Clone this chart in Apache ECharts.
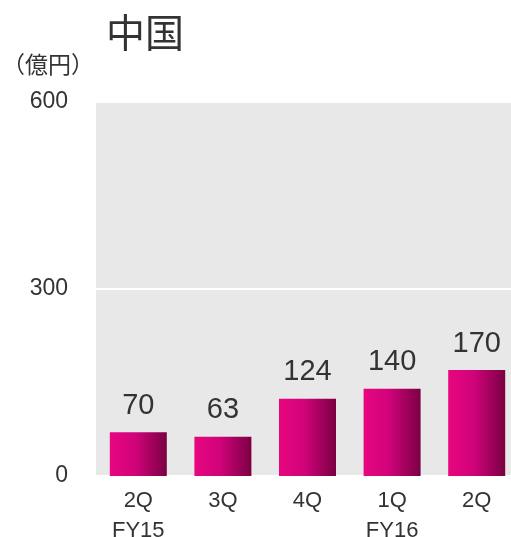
<!DOCTYPE html>
<html>
<head>
<meta charset="utf-8">
<script src="https://cdn.jsdelivr.net/npm/echarts@6/dist/echarts.min.js"></script>
<style>
html, body { margin: 0; padding: 0; background: #fff; }
#chart { width: 511px; height: 537px; }
</style>
</head>
<body>
<div id="chart"></div>
<script>
// Quarterly figures (億円)
const quarters = ['2Q\nFY15', '3Q', '4Q', '1Q\nFY16', '2Q'];
const values = [70, 63, 124, 140, 170];
const yTicks = [0, 300, 600];

const chart = echarts.init(document.getElementById('chart'));

const barGradient = new echarts.graphic.LinearGradient(0, 0, 1, 0, [
  { offset: 0, color: '#e8067f' },
  { offset: 0.45, color: '#d0037a' },
  { offset: 1, color: '#7a0042' }
]);

chart.setOption({
  animation: false,
  textStyle: { fontFamily: 'Liberation Sans, Arial, sans-serif' },
  title: {
    text: '中国',
    left: 101,
    top: 8,
    textStyle: { fontFamily: 'Noto Sans CJK JP', fontSize: 39, fontWeight: 'normal', color: '#333' }
  },
  graphic: [{
    type: 'text',
    left: 2,
    top: 53,
    style: { text: '（億円）', font: '23px "Noto Sans CJK JP"', fill: '#333' }
  }],
  grid: {
    left: 96,
    top: 102,
    width: 423,
    height: 374,
    containLabel: false,
    outerBoundsMode: 'none',
    show: true,
    backgroundColor: '#e8e8e8',
    borderWidth: 0
  },
  xAxis: {
    type: 'category',
    data: quarters,
    axisLine: { show: false },
    axisTick: { show: false },
    axisLabel: { fontSize: 22, color: '#333', margin: 10, lineHeight: 30 }
  },
  yAxis: {
    type: 'value',
    min: yTicks[0],
    max: yTicks[yTicks.length - 1],
    interval: 300,
    axisLine: { show: false },
    axisTick: { show: false },
    splitLine: { lineStyle: { color: '#ffffff', width: 2 } },
    axisLabel: { fontSize: 23, color: '#333', margin: 28, padding: [5, 0, 0, 0] }
  },
  series: [{
    type: 'bar',
    data: values,
    barWidth: 57,
    itemStyle: { color: barGradient },
    label: {
      show: true,
      position: 'top',
      distance: 12,
      fontSize: 29,
      color: '#333'
    }
  }]
});
</script>
</body>
</html>
